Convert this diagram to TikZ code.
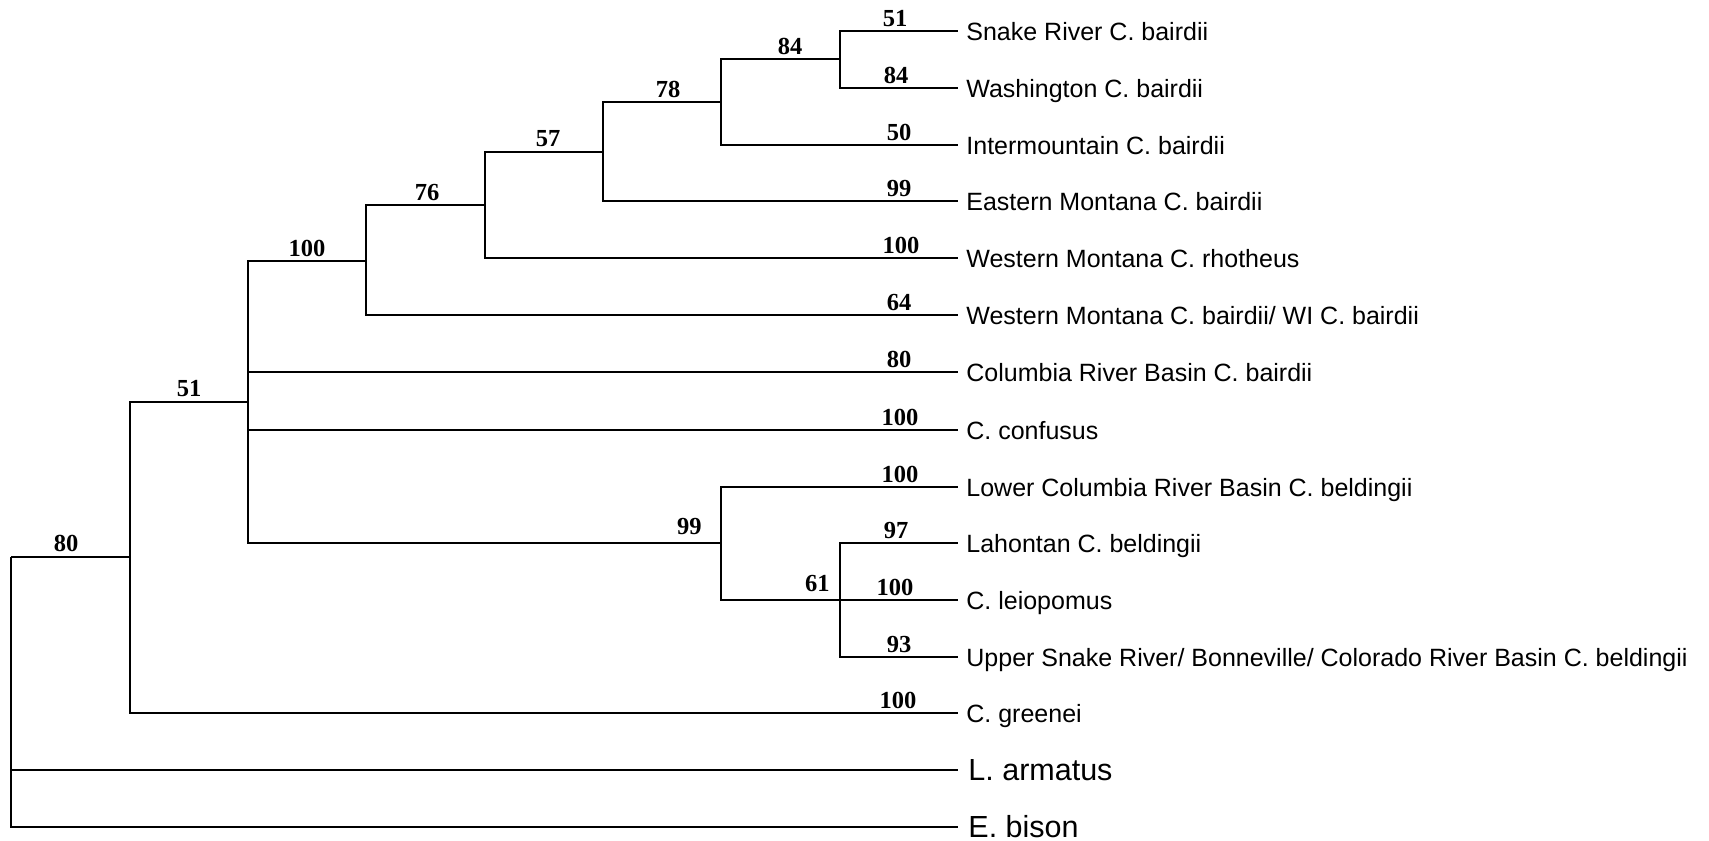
\documentclass[tikz,border=0pt]{standalone}
\usepackage{fontspec}
\setmainfont{Liberation Sans}
\newfontfamily\numfont{Liberation Serif}
\begin{document}
\begin{tikzpicture}[x=0.5pt,y=-0.5pt,
  br/.style={draw=black, line width=1.2pt, line join=miter},
  taxon/.style={anchor=base west, inner sep=0pt, font=\fontsize{12.5}{14}\selectfont},
  bigtaxon/.style={anchor=base west, inner sep=0pt, font=\fontsize{15.25}{17}\selectfont},
  boot/.style={anchor=base, inner sep=0pt, font=\numfont\bfseries\fontsize{12.25}{14}\selectfont},
  bootr/.style={boot, anchor=base east}]
\useasboundingbox (0,0) rectangle (1709,841);
% internal nodes
\coordinate (root) at (11,557);
\coordinate (a) at (130,557);
\coordinate (b) at (248,402);
\coordinate (c) at (366,261);
\coordinate (d) at (485,205);
\coordinate (e) at (603,152);
\coordinate (f) at (721,102);
\coordinate (g) at (840,59);
\coordinate (h) at (721,543);
\coordinate (k) at (840,600);
% tips
\coordinate (t1) at (958,31);
\coordinate (t2) at (958,88);
\coordinate (t3) at (958,145);
\coordinate (t4) at (958,201);
\coordinate (t5) at (958,258);
\coordinate (t6) at (958,315);
\coordinate (t7) at (958,372);
\coordinate (t8) at (958,430);
\coordinate (t9) at (958,487);
\coordinate (t10) at (958,543);
\coordinate (t11) at (958,600);
\coordinate (t12) at (958,657);
\coordinate (t13) at (958,713);
\coordinate (t14) at (958,770);
\coordinate (t15) at (958,827);
% branches
\draw[br] (root) |- (a);
\draw[br] (root) |- (t14);
\draw[br] (root) |- (t15);
\draw[br] (a) |- (b);
\draw[br] (a) |- (t13);
\draw[br] (b) |- (c);
\draw[br] (b) |- (t7);
\draw[br] (b) |- (t8);
\draw[br] (b) |- (h);
\draw[br] (c) |- (d);
\draw[br] (c) |- (t6);
\draw[br] (d) |- (e);
\draw[br] (d) |- (t5);
\draw[br] (e) |- (f);
\draw[br] (e) |- (t4);
\draw[br] (f) |- (g);
\draw[br] (f) |- (t3);
\draw[br] (g) |- (t1);
\draw[br] (g) |- (t2);
\draw[br] (h) |- (t9);
\draw[br] (h) |- (k);
\draw[br] (k) |- (t10);
\draw[br] (k) |- (t11);
\draw[br] (k) |- (t12);
% taxon labels
\node[taxon] (l1) at (966,40) {Snake River C. bairdii};
\node[taxon] (l2) at (966,97) {Washington C. bairdii};
\node[taxon] (l3) at (966,154) {Intermountain C. bairdii};
\node[taxon] (l4) at (966,210) {Eastern Montana C. bairdii};
\node[taxon] (l5) at (966,267) {Western Montana C. rhotheus};
\node[taxon] (l6) at (966,324) {Western Montana C. bairdii/ WI C. bairdii};
\node[taxon] (l7) at (966,381) {Columbia River Basin C. bairdii};
\node[taxon] (l8) at (966,439) {C. confusus};
\node[taxon] (l9) at (966,496) {Lower Columbia River Basin C. beldingii};
\node[taxon] (l10) at (966,552) {Lahontan C. beldingii};
\node[taxon] (l11) at (966,609) {C. leiopomus};
\node[taxon] (l12) at (966,666) {Upper Snake River/ Bonneville/ Colorado River Basin C. beldingii};
\node[taxon] (l13) at (966,722) {C. greenei};
\node[bigtaxon] (l14) at (968,780) {L. armatus};
\node[bigtaxon] (l15) at (968,837) {E. bison};
% tip support values
\node[boot] (s1) at (895,26) {51};
\node[boot] (s2) at (896,83) {84};
\node[boot] (s3) at (899,140) {50};
\node[boot] (s4) at (899,196) {99};
\node[boot] (s5) at (901,253) {100};
\node[boot] (s6) at (899,310) {64};
\node[boot] (s7) at (899,367) {80};
\node[boot] (s8) at (900,425) {100};
\node[boot] (s9) at (900,482) {100};
\node[boot] (s10) at (896,538) {97};
\node[boot] (s11) at (895,595) {100};
\node[boot] (s12) at (899,652) {93};
\node[boot] (s13) at (898,708) {100};
% internal support values
\node[boot] (sa) at (66,551) {80};
\node[boot] (sb) at (189,396) {51};
\node[boot] (sc) at (307,256) {100};
\node[boot] (sd) at (427,200) {76};
\node[boot] (se) at (548,146) {57};
\node[boot] (sf) at (668,97) {78};
\node[boot] (sg) at (790,54) {84};
\node[bootr] (sh) at (702,534) {99};
\node[bootr] (sk) at (830,591) {61};
\end{tikzpicture}
\end{document}
